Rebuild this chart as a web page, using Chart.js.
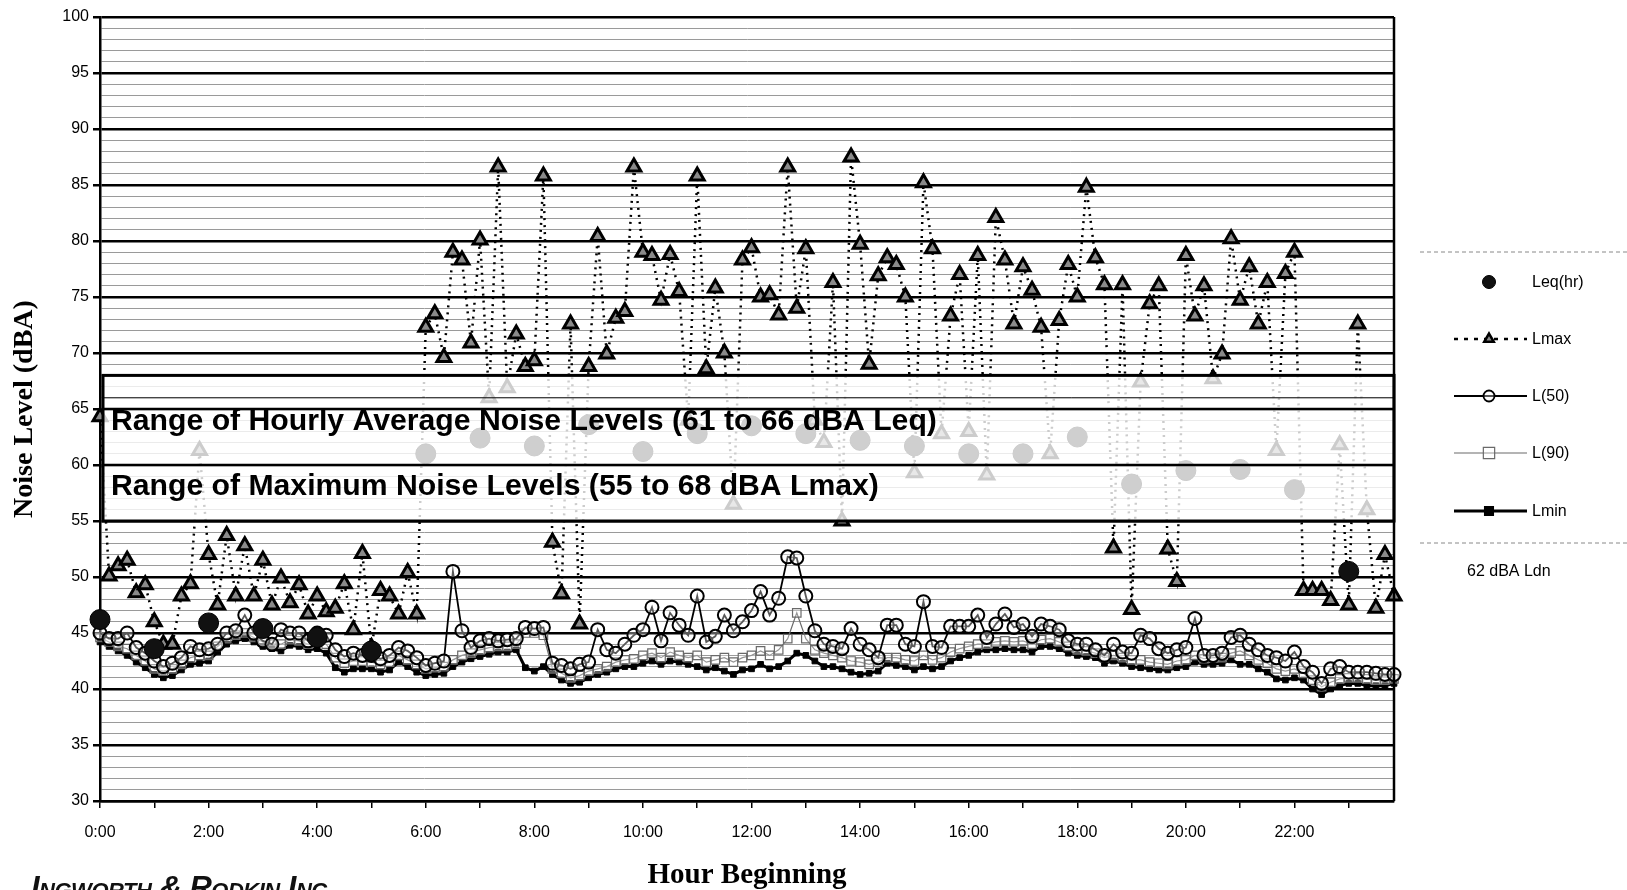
<!DOCTYPE html>
<html>
<head>
<meta charset="utf-8">
<title>Noise Level by Hour</title>
<script src="https://cdn.jsdelivr.net/npm/chart.js@4.4.1/dist/chart.umd.min.js"></script>
<style>
  html, body { margin: 0; padding: 0; background: #fff; overflow: hidden; }
  #wrap { position: relative; width: 1627px; height: 890px; overflow: hidden; }
  #logo {
    position: absolute; left: 31px; top: 870px;
    font: italic 900 31px "Liberation Sans", Arial, sans-serif;
    font-variant: small-caps; letter-spacing: -0.5px; color: #111; white-space: nowrap;
  }
</style>
</head>
<body>
<div id="wrap">
  <canvas id="noiseChart" width="1627" height="890"></canvas>
  <div id="logo">Ingworth &amp; Rodkin Inc</div>
</div>
<script>
// tick labels on the x axis (every 2 hours, 10-minute samples)
const hourLabels = ["0:00", "2:00", "4:00", "6:00", "8:00", "10:00", "12:00", "14:00", "16:00", "18:00", "20:00", "22:00"];

// hourly Leq, one value per hour
const leqHourly = [46.2, 43.6, 45.9, 45.4, 44.6, 43.4, 61.0, 62.4, 61.7, 63.6, 61.2, 62.8,
                   63.5, 62.8, 62.2, 61.7, 61.0, 61.0, 62.5, 58.3, 59.5, 59.6, 57.8, 50.5];

// 10-minute values, one line per hour
const lmax = [
  64.3, 50.1, 51.0, 51.5, 48.6, 49.3,
  46.0, 44.0, 44.0, 48.3, 49.4, 61.3,
  52.0, 47.5, 53.7, 48.3, 52.8, 48.3,
  51.5, 47.5, 49.9, 47.7, 49.3, 46.7,
  48.3, 46.9, 47.2, 49.4, 45.3, 52.1,
  43.7, 48.8, 48.3, 46.7, 50.4, 46.7,
  72.3, 73.5, 69.6, 79.0, 78.3, 70.9,
  80.1, 66.0, 86.6, 66.9, 71.7, 68.8,
  69.3, 85.8, 53.1, 48.5, 72.6, 45.8,
  68.8, 80.4, 69.9, 73.1, 73.7, 86.6,
  79.0, 78.7, 74.7, 78.8, 75.5, 64.0,
  85.8, 68.6, 75.8, 70.0, 56.5, 78.3,
  79.4, 75.0, 75.2, 73.4, 86.6, 74.0,
  79.3, 64.0, 62.0, 76.3, 55.0, 87.5,
  79.7, 69.0, 76.9, 78.5, 77.9, 75.0,
  59.3, 85.2, 79.3, 62.8, 73.3, 77.0,
  63.0, 78.7, 59.1, 82.1, 78.3, 72.6,
  77.7, 75.6, 72.3, 61.0, 72.9, 77.9,
  75.0, 84.8, 78.5, 76.1, 52.6, 76.1,
  47.1, 67.4, 74.4, 76.0, 52.5, 49.6,
  78.7, 73.3, 76.0, 67.7, 69.9, 80.2,
  74.7, 77.7, 72.6, 76.3, 61.3, 77.1,
  79.0, 48.8, 48.8, 48.8, 47.9, 61.8,
  47.5, 72.6, 56.0, 47.2, 52.0, 48.3
];

const l50 = [
  45.0, 44.5, 44.5, 45.0, 43.7, 43.2,
  42.5, 42.0, 42.3, 42.8, 43.8, 43.5,
  43.6, 44.0, 45.0, 45.2, 46.6, 45.0,
  44.3, 44.0, 45.3, 45.0, 45.0, 44.3,
  45.0, 44.8, 43.5, 42.9, 43.2, 43.0,
  43.0, 42.7, 43.0, 43.7, 43.4, 42.8,
  42.1, 42.3, 42.5, 50.5, 45.2, 43.7,
  44.3, 44.5, 44.3, 44.4, 44.5, 45.5,
  45.4, 45.5, 42.3, 42.1, 41.8, 42.2,
  42.4, 45.3, 43.5, 43.2, 44.0, 44.8,
  45.3, 47.3, 44.3, 46.8, 45.7, 44.8,
  48.3, 44.2, 44.7, 46.6, 45.2, 46.0,
  47.0, 48.7, 46.6, 48.1, 51.8, 51.7,
  48.3, 45.2, 44.0, 43.8, 43.6, 45.4,
  44.0, 43.5, 42.8, 45.7, 45.7, 44.0,
  43.8, 47.8, 43.8, 43.7, 45.6, 45.6,
  45.6, 46.6, 44.6, 45.8, 46.7, 45.5,
  45.8, 44.7, 45.8, 45.6, 45.3, 44.3,
  44.0, 44.0, 43.5, 43.0, 44.0, 43.3,
  43.2, 44.8, 44.5, 43.6, 43.2, 43.5,
  43.7, 46.3, 43.0, 43.0, 43.2, 44.6,
  44.8, 44.0, 43.5, 43.0, 42.8, 42.5,
  43.3, 42.0, 41.5, 40.5, 41.8, 42.0,
  41.5, 41.5, 41.5, 41.4, 41.3, 41.3
];

const l90 = [
  44.6, 44.2, 43.8, 43.6, 43.0, 42.5,
  41.8, 41.6, 41.8, 42.2, 42.8, 43.0,
  43.0, 43.8, 44.5, 44.8, 45.0, 44.6,
  44.2, 44.0, 44.0, 44.4, 44.3, 44.0,
  44.2, 44.0, 42.8, 42.3, 42.5, 42.5,
  42.4, 42.2, 42.4, 43.0, 42.6, 42.2,
  41.8, 41.9, 42.0, 42.6, 43.0, 43.2,
  43.5, 43.7, 43.8, 43.8, 44.0, 45.0,
  45.0, 44.8, 41.8, 41.4, 41.0, 41.2,
  41.6, 41.8, 42.0, 42.4, 42.6, 42.7,
  43.0, 43.2, 42.8, 43.3, 43.0, 42.8,
  43.0, 42.4, 42.6, 42.8, 42.4, 42.8,
  43.0, 43.4, 43.0, 43.5, 44.5, 46.8,
  44.5, 43.5, 43.2, 43.0, 42.8, 42.5,
  42.4, 42.2, 42.4, 42.8, 42.8, 42.6,
  42.5, 43.0, 42.6, 42.8, 43.3, 43.6,
  43.8, 44.0, 44.0, 44.2, 44.3, 44.2,
  44.3, 44.0, 44.4, 44.5, 44.2, 43.8,
  43.5, 43.4, 43.2, 42.8, 43.0, 42.8,
  42.6, 42.6, 42.4, 42.3, 42.2, 42.5,
  42.6, 43.0, 42.7, 42.8, 42.8, 43.2,
  43.4, 43.0, 42.6, 42.3, 41.8, 41.6,
  41.8, 41.4, 40.8, 40.2, 40.6, 40.9,
  41.0, 41.0, 40.9, 40.8, 40.8, 40.9
];

const lmin = [
  44.2, 43.8, 43.4, 43.0, 42.4, 41.9,
  41.3, 41.0, 41.2, 41.7, 42.2, 42.3,
  42.5, 43.3, 44.0, 44.3, 44.5, 44.2,
  43.8, 43.6, 43.4, 43.9, 43.8, 43.5,
  43.6, 43.2, 41.9, 41.5, 41.8, 41.8,
  41.8, 41.5, 41.7, 42.4, 42.0, 41.5,
  41.2, 41.3, 41.4, 42.0, 42.4, 42.7,
  42.9, 43.1, 43.3, 43.3, 43.5, 41.9,
  41.6, 42.0, 41.3, 40.8, 40.5, 40.6,
  41.0, 41.3, 41.5, 41.8, 42.0, 42.0,
  42.3, 42.5, 42.2, 42.5, 42.4, 42.2,
  42.0, 41.7, 41.9, 41.6, 41.3, 41.7,
  41.8, 42.2, 41.8, 42.0, 42.5, 43.2,
  43.0, 42.5, 42.0, 42.0, 41.8, 41.5,
  41.3, 41.4, 41.6, 42.3, 42.1, 42.0,
  41.7, 42.0, 41.8, 42.0, 42.5, 42.8,
  43.0, 43.3, 43.5, 43.5, 43.6, 43.5,
  43.5, 43.3, 43.8, 43.8, 43.6, 43.2,
  43.0, 42.9, 42.8, 42.3, 42.5, 42.3,
  42.0, 41.9, 41.8, 41.7, 41.7, 41.9,
  42.0, 42.4, 42.2, 42.2, 42.3, 42.6,
  42.2, 42.2, 41.8, 41.5, 40.9, 40.8,
  41.0, 40.8, 40.0, 39.5, 40.0, 40.3,
  40.5, 40.5, 40.3, 40.3, 40.3, 40.5
];

// shaded range box and its captions
const boxRange = [55, 68];
const boxLines = [60, 65, 66];
const boxTexts = ["Range of Hourly Average Noise Levels (61 to 66 dBA Leq)", "Range of Maximum Noise Levels (55 to 68 dBA Lmax)"];

const SANS = '"Liberation Sans", Arial, sans-serif';
const SERIF = '"Liberation Serif", "Times New Roman", serif';

function toPoints(arr) {
    return arr.map((v, i) => ({ x: i, y: v }));
}

// Range box drawn over the data (semi-opaque so the points inside look faded)
const rangeBoxPlugin = {
    id: "rangeBox",
    afterDatasetsDraw(chart) {
        const { ctx, chartArea, scales: { y } } = chart;
        const left = chartArea.left + 3;
        const right = chartArea.right;
        const top = y.getPixelForValue(boxRange[1]);
        const bottom = y.getPixelForValue(boxRange[0]);
        ctx.save();
        ctx.fillStyle = "rgba(255,255,255,0.8)";
        ctx.fillRect(left, top, right - left, bottom - top);

        ctx.strokeStyle = "#000";
        boxLines.forEach(v => {
            const py = y.getPixelForValue(v);
            ctx.lineWidth = v % 5 === 0 ? 2.5 : 1;
            ctx.beginPath();
            ctx.moveTo(left, py);
            ctx.lineTo(right, py);
            ctx.stroke();
        });
        ctx.lineWidth = 3;
        ctx.strokeRect(left, top, right - left, bottom - top);

        // captions
        ctx.fillStyle = "#000";
        ctx.textBaseline = "alphabetic";
        ctx.textAlign = "left";
        const targets = [826, 768];
        const baselines = [y.getPixelForValue(65) + 21, y.getPixelForValue(60) + 30];
        boxTexts.forEach((t, k) => {
            ctx.font = "bold 24px " + SANS;
            const w = ctx.measureText(t).width;
            const size = 24 * targets[k] / w;
            ctx.font = "bold " + size.toFixed(2) + "px " + SANS;
            ctx.fillText(t, chartArea.left + 11, baselines[k]);
        });

        // right frame of plot
        ctx.lineWidth = 2.5;
        ctx.beginPath();
        ctx.moveTo(chartArea.right, chartArea.top);
        ctx.lineTo(chartArea.right, chartArea.bottom);
        ctx.stroke();
        ctx.restore();
    }
};

// Legend at the right side
const sideLegendPlugin = {
    id: "sideLegend",
    afterDraw(chart) {
        const { ctx } = chart;
        const rows = [282, 339, 396, 453, 511];
        const markerX = 1489;
        ctx.save();
        ctx.strokeStyle = "#888";
        ctx.lineWidth = 1;
        ctx.setLineDash([4, 3]);
        ctx.beginPath();
        ctx.moveTo(1420, 252); ctx.lineTo(1627, 252);
        ctx.moveTo(1420, 543); ctx.lineTo(1627, 543);
        ctx.stroke();

        chart.data.datasets.forEach((ds, k) => {
            const yy = rows[k];
            if (ds.showLine !== false) {
                ctx.strokeStyle = ds.borderColor;
                ctx.lineWidth = ds.borderWidth;
                ctx.setLineDash(ds.legendDash || ds.borderDash || []);
                ctx.beginPath();
                ctx.moveTo(1454, yy);
                ctx.lineTo(1527, yy);
                ctx.stroke();
            }
            ctx.setLineDash([]);
            ctx.fillStyle = ds.pointBackgroundColor;
            ctx.strokeStyle = ds.pointBorderColor;
            Chart.helpers.drawPoint(ctx, {
                pointStyle: ds.pointStyle,
                radius: ds.legendRadius,
                borderWidth: ds.pointBorderWidth,
                rotation: 0
            }, markerX, yy);
            ctx.fillStyle = "#000";
            ctx.font = "16px " + SANS;
            ctx.textBaseline = "middle";
            ctx.textAlign = "left";
            ctx.fillText(ds.label, 1532, yy + 1);
        });
        ctx.font = "16px " + SANS;
        ctx.fillText("62 dBA Ldn", 1467, 572);
        ctx.restore();
    }
};

const ctx = document.getElementById("noiseChart").getContext("2d");
new Chart(ctx, {
    type: "line",
    data: {
        datasets: [
            {
                label: "Leq(hr)",
                data: leqHourly.map((v, h) => ({ x: h * 6, y: v })),
                showLine: false,
                pointStyle: "circle",
                pointRadius: 10,
                legendRadius: 6.5,
                pointBackgroundColor: "#111",
                pointBorderColor: "#000",
                pointBorderWidth: 1,
                order: 0
            },
            {
                label: "Lmax",
                data: toPoints(lmax),
                borderColor: "#000",
                borderWidth: 2.5,
                borderDash: [2, 5],
                legendDash: [4, 6],
                pointStyle: "triangle",
                pointRadius: 8,
                legendRadius: 5.5,
                pointBackgroundColor: "#8a8a8a",
                pointBorderColor: "#000",
                pointBorderWidth: 3,
                order: 1
            },
            {
                label: "L(50)",
                data: toPoints(l50),
                borderColor: "#000",
                borderWidth: 1.8,
                pointStyle: "circle",
                pointRadius: 6.5,
                legendRadius: 5.5,
                pointBackgroundColor: "rgba(255,255,255,0.35)",
                pointBorderColor: "#000",
                pointBorderWidth: 2,
                order: 2
            },
            {
                label: "L(90)",
                data: toPoints(l90),
                borderColor: "#6a6a6a",
                borderWidth: 1.2,
                pointStyle: "rect",
                pointRadius: 6,
                legendRadius: 8,
                pointBackgroundColor: "rgba(255,255,255,0.3)",
                pointBorderColor: "#6a6a6a",
                pointBorderWidth: 1.2,
                order: 3
            },
            {
                label: "Lmin",
                data: toPoints(lmin),
                borderColor: "#000",
                borderWidth: 3,
                pointStyle: "rect",
                pointRadius: 4,
                legendRadius: 5,
                pointBackgroundColor: "#000",
                pointBorderColor: "#000",
                pointBorderWidth: 1,
                order: 4
            }
        ]
    },
    options: {
        responsive: false,
        animation: false,
        devicePixelRatio: 1,
        layout: { padding: { left: 0, top: 17, right: 233, bottom: 0 } },
        elements: { line: { tension: 0 } },
        datasets: { line: { clip: false } },
        plugins: {
            legend: { display: false },
            tooltip: { enabled: false }
        },
        scales: {
            x: {
                type: "linear",
                min: 0,
                max: 143,
                afterBuildTicks: axis => {
                    axis.ticks = [];
                    for (let v = 0; v <= 138; v += 6) axis.ticks.push({ value: v });
                },
                afterFit: axis => { axis.height = 89; },
                grid: { drawOnChartArea: false, drawTicks: true, tickLength: 7, color: "#000", lineWidth: 1.5 },
                border: { display: true, color: "#000", width: 2.5 },
                ticks: {
                    autoSkip: false,
                    maxRotation: 0,
                    padding: 15,
                    color: "#000",
                    font: { family: SANS, size: 16 },
                    callback: v => (v % 12 === 0 ? hourLabels[v / 12] : "")
                },
                title: {
                    display: true,
                    text: "Hour Beginning",
                    color: "#000",
                    font: { family: SERIF, size: 29, weight: "bold" },
                    padding: { top: 0, bottom: -3 }
                }
            },
            y: {
                min: 30,
                max: 100,
                afterFit: axis => { axis.width = 100; },
                grid: {
                    color: c => (c.tick && c.tick.value % 5 === 0 ? "#000" : "#9a9a9a"),
                    lineWidth: c => (c.tick && c.tick.value % 5 === 0 ? 2.5 : 1),
                    tickColor: c => (c.tick && c.tick.value % 5 === 0 ? "#000" : "rgba(0,0,0,0)"),
                    tickLength: 7
                },
                border: { display: true, color: "#000", width: 2.5 },
                ticks: {
                    stepSize: 1,
                    autoSkip: false,
                    padding: 4,
                    color: "#000",
                    font: { family: SANS, size: 16 },
                    callback: v => (v % 5 === 0 ? String(v) : "")
                },
                title: {
                    display: true,
                    text: "Noise Level (dBA)",
                    color: "#000",
                    font: { family: SERIF, size: 28, weight: "bold" },
                    padding: { top: 8, bottom: 0 }
                }
            }
        }
    },
    plugins: [rangeBoxPlugin, sideLegendPlugin]
});
</script>
</body>
</html>
